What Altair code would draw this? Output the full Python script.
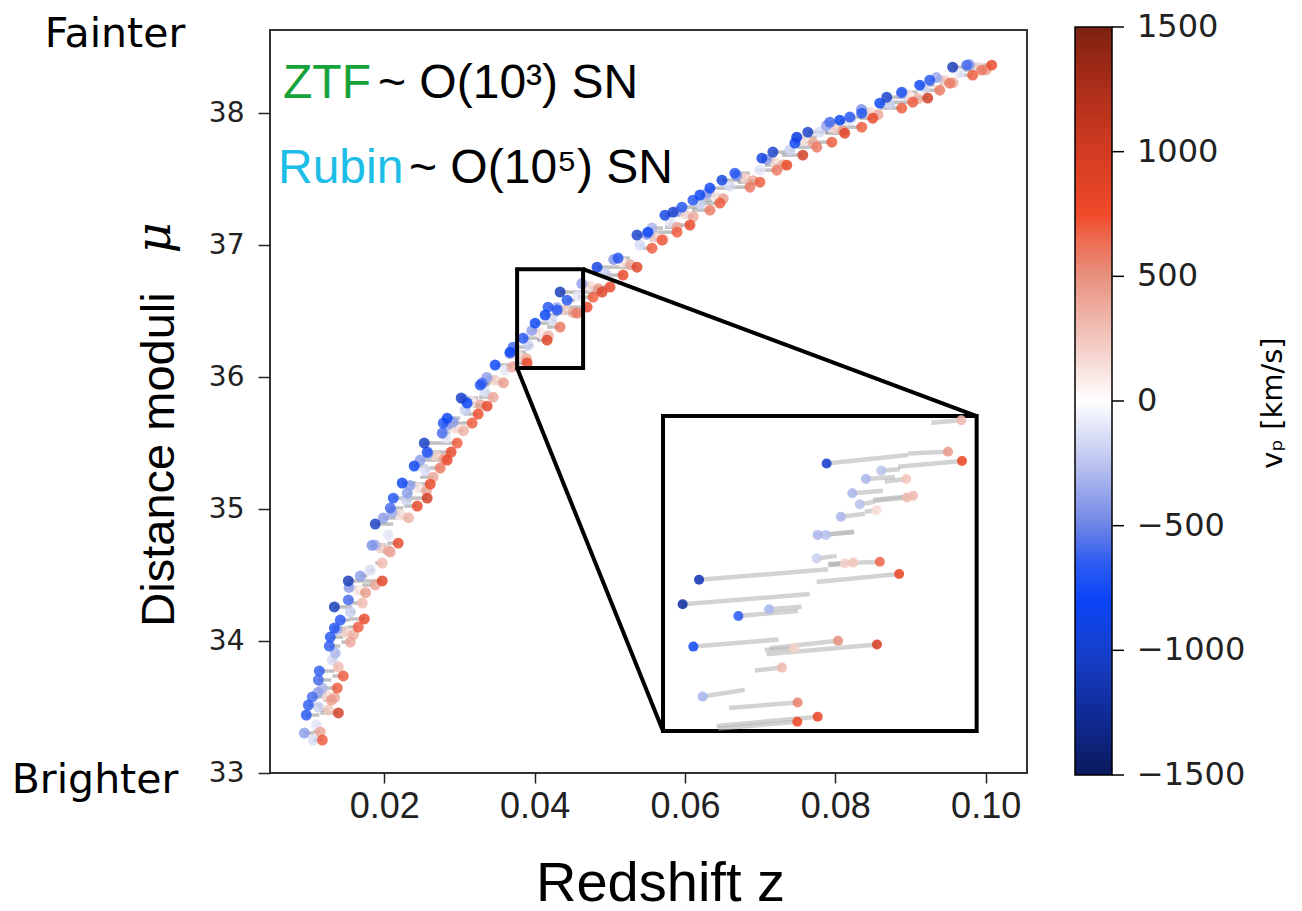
import altair as alt
import pandas as pd

# ---------------- axes / layout ----------------
W, H = 757, 743
Z_DOMAIN = [0.0048, 0.1055]
MU_DOMAIN = [33.0, 38.63]
x_ticks = [0.02, 0.04, 0.06, 0.08, 0.10]
y_ticks = [33, 34, 35, 36, 37, 38]

# ---------------- main scatter (observed z, distance modulus, peculiar velocity, cosmological z) ----------------
z_obs = [
    .01522, .01681, .01973, .01880, .01973, .01336, .01522, .01734, .01654, .01708, .01415,
    .01336, .01282, .01269, .01349, .01548, .01389, .01136, .01123, .01455, .01375, .01176,
    .01043, .00990, .01296, .01389, .00963, .01123, .00937, .01149, .01176, .01056, .01256,
    .03276, .03023, .03103, .03369, .03249, .03169, .02837, .02784, .02917, .02771, .02532,
    .02571, .02970, .02890, .02837, .02744, .02399, .02478, .02611, .02651, .02239, .02120,
    .02306, .02080, .02571, .02439, .01880, .01987, .01880, .02186, .02080,
    .05841, .05734, .05508, .05362, .05894, .05694, .05562, .05110, .04831, .05362, .05176,
    .05003, .04897, .04778, .04339, .04432, .04179, .04140, .04698, .04565, .04166, .04339,
    .04007, .03847, .03714, .03900, .03475, .03302, .03449, .03701, .04299, .03674,
    .08193, .07927, .08126, .07954, .07634, .07488, .07462, .07568, .07754, .07169, .07023,
    .07355, .07223, .06664, .06492, .06997, .06864, .06332, .06199, .06106, .05960, .06465,
    .06332, .06066, .05894, .05562,
    .09561, .09748, .10080, .09947, .09827, .09256, .09123, .09229, .09522, .09389, .08884,
    .08684, .08591, .09030, .08884, .08352, .08060, .08498, .08352,
    .01096, .01229, .01309, .01482, .01548, .01641, .01814, .01947, .02053, .02213, .02292,
    .02452, .02545, .02691, .02824, .02944, .03076, .03169, .03342, .03475, .03608, .03781,
    .03914, .04073, .04233, .04405, .04578, .04738, .04937, .05163, .05402, .05601, .05801,
    .06000, .06199, .06399, .06598, .06797, .06997, .07196, .07395, .07595, .07794, .07993,
    .08193, .08458, .08724, .08990, .09189, .09455, .09654, .09894,
]
mu_obs = [
    34.455, 34.492, 34.455, 34.424, 34.591, 34.258, 34.311, 34.167, 34.106, 34.288, 34.159,
    34.098, 34.030, 33.962, 33.909, 33.992, 33.803, 33.773, 33.705, 33.735, 33.644, 33.644,
    33.576, 33.515, 33.553, 33.455, 33.439, 33.500, 33.303, 33.311, 33.250, 33.250, 33.477,
    35.939, 35.841, 35.803, 35.780, 35.720, 35.652, 35.689, 35.652, 35.659, 35.576, 35.500,
    35.432, 35.500, 35.432, 35.371, 35.311, 35.326, 35.371, 35.189, 35.242, 35.197, 35.083,
    35.121, 35.008, 35.083, 35.023, 34.886, 34.932, 34.727, 34.742, 34.674,
    37.250, 37.227, 37.098, 37.076, 37.136, 37.038, 36.977, 36.902, 36.833, 36.833, 36.773,
    36.682, 36.644, 36.606, 36.644, 36.583, 36.530, 36.470, 36.530, 36.485, 36.280, 36.379,
    36.409, 36.295, 36.227, 36.106, 36.091, 35.955, 35.848, 36.076, 36.508, 36.189,
    37.970, 37.932, 37.848, 37.780, 37.856, 37.818, 37.773, 37.682, 37.742, 37.705, 37.659,
    37.606, 37.568, 37.545, 37.492, 37.477, 37.439, 37.432, 37.379, 37.341, 37.288, 37.318,
    37.265, 37.152, 37.098, 37.129,
    38.348, 38.364, 38.364, 38.326, 38.288, 38.250, 38.212, 38.114, 38.227, 38.174, 38.159,
    38.121, 38.076, 38.083, 38.038, 38.000, 37.947, 37.962, 37.894,
    33.364, 33.591, 33.856, 34.068, 34.220, 34.386, 34.538, 34.705, 34.803, 34.955, 35.068,
    35.159, 35.295, 35.402, 35.538, 35.614, 35.750, 35.811, 35.886, 35.977, 36.053, 36.159,
    36.242, 36.333, 36.432, 36.508, 36.614, 36.689, 36.788, 36.871, 37.000, 37.061, 37.174,
    37.235, 37.311, 37.371, 37.447, 37.508, 37.568, 37.629, 37.720, 37.795, 37.856, 37.886,
    37.947, 38.008, 38.068, 38.129, 38.189, 38.250, 38.303, 38.348,
]
v_pec = [
    -1100, -400, 900, 400, 300, -1100, -600, 800, 700, 300, -700,
    -700, -700, -650, -300, 400, 300, -650, -600, 700, 700, -300,
    -600, -650, 450, 1000, -700, -200, -400, 400, 700, -150, 250,
    -700, -1000, -800, 800, 750, 700, -800, -700, -400, -600, -1050,
    -700, 700, 800, 800, 600, -800, -400, 800, 400, -800, -700,
    -400, -600, 1000, 800, -1050, -400, -300, 800, 400,
    -1000, -900, -800, -1000, 400, 700, 700, -700, -900, 900, 800,
    800, 900, 700, -1100, -700, -700, -800, 800, 600, 900, 600,
    -800, -700, -600, 800, -800, -600, 400, 400, -700, -800,
    -700, -600, 900, 700, -1000, -900, -800, 1000, 600, -1000, -900,
    800, 600, -700, -900, 700, 600, -800, -800, -700, -700, 700,
    600, 800, 700, -300,
    -1100, -600, 800, 600, 700, -700, -800, 1000, 600, 600, -700,
    -1000, -800, 700, 700, -700, -800, 800, 700,
    -100, 150, -150, 200, -200, 100, -150, 200, -100, 150, -200,
    100, -150, 200, -100, 150, -200, 100, -150, 200, -100, 150,
    -200, 100, -150, 200, -100, 150, -200, 100, -150, 200, -100,
    150, -200, 100, -150, 200, -100, 150, -200, 100, -150, 200,
    -100, 150, -200, 100, -150, 200, -100, 150,
]
z_cos = [
    .01748, .01774, .01748, .01708, .01880, .01575, .01588, .01535, .01522, .01575, .01535,
    .01522, .01455, .01415, .01389, .01429, .01349, .01336, .01296, .01309, .01269, .01269,
    .01216, .01163, .01189, .01149, .01136, .01163, .01056, .01056, .01056, .01096, .01149,
    .03395, .03249, .03223, .03183, .03063, .02957, .03010, .02957, .02970, .02877, .02797,
    .02731, .02797, .02731, .02638, .02558, .02571, .02638, .02425, .02478, .02425, .02346,
    .02372, .02252, .02346, .02266, .02120, .02159, .02027, .02040, .01987,
    .06040, .05973, .05654, .05601, .05734, .05535, .05429, .05269, .05096, .05096, .04963,
    .04738, .04631, .04578, .04631, .04538, .04432, .04313, .04432, .04339, .04033, .04166,
    .04193, .04060, .03940, .03701, .03688, .03422, .03262, .03661, .04379, .03887,
    .08352, .08140, .07874, .07661, .07900, .07754, .07634, .07289, .07501, .07355, .07196,
    .07063, .06930, .06864, .06744, .06704, .06611, .06598, .06465, .06359, .06173, .06266,
    .06093, .05774, .05654, .05708,
    .09814, .09894, .09894, .09695, .09628, .09455, .09322, .08924, .09389, .09150, .09096,
    .08950, .08724, .08764, .08591, .08432, .08272, .08325, .08033,
    .01126, .01179, .01359, .01412, .01618, .01611, .01864, .01877, .02083, .02163, .02362,
    .02422, .02595, .02621, .02854, .02894, .03146, .03139, .03392, .03405, .03638, .03731,
    .03984, .04043, .04283, .04335, .04608, .04688, .05007, .05133, .05452, .05531, .05831,
    .05950, .06269, .06369, .06648, .06727, .07027, .07146, .07465, .07565, .07844, .07923,
    .08223, .08408, .08794, .08960, .09239, .09385, .09684, .09844,
]

# paler supernovae hugging both sides of the band
z_obs_pale = [
    .01119, .01339, .01372, .01592, .01531, .01751, .01837, .02057, .02103, .02323,
    .02342, .02562, .02581, .02801, .02834, .03054, .03059, .03279, .03365, .03585,
    .03671, .03891, .03963, .04183, .04295, .04515, .04628, .04848, .05053, .05273,
    .05491, .05711, .05890, .06110, .06289, .06509, .06687, .06907, .07086, .07306,
    .07485, .07705, .07883, .08103, .08348, .08568, .08880, .09100, .09345, .09565,
    .09784, .10004,
]
mu_obs_pale = [
    33.611, 33.571, 34.088, 34.048, 34.406, 34.366, 34.725, 34.685, 34.975, 34.935,
    35.179, 35.139, 35.422, 35.382, 35.634, 35.594, 35.831, 35.791, 35.997, 35.957,
    36.179, 36.139, 36.353, 36.313, 36.528, 36.488, 36.709, 36.669, 36.891, 36.851,
    37.081, 37.041, 37.255, 37.215, 37.391, 37.351, 37.528, 37.488, 37.649, 37.609,
    37.815, 37.775, 37.906, 37.866, 38.028, 37.988, 38.149, 38.109, 38.270, 38.230,
    38.368, 38.328,
]
v_pec_pale = [
    -400, 400, -350, 350, -400, 450, -450, 400, -350, 350,
    -400, 400, -450, 450, -400, 350, -350, 400, -400, 450,
    -450, 400, -400, 350, -350, 400, -400, 450, -450, 400,
    -400, 350, -350, 400, -400, 450, -450, 400, -400, 350,
    -350, 400, -400, 450, -450, 400, -400, 350, -350, 400,
    -400, 450,
]
z_cos_pale = [
    .01229, .01229, .01482, .01482, .01641, .01641, .01947, .01947, .02213, .02213,
    .02452, .02452, .02691, .02691, .02944, .02944, .03169, .03169, .03475, .03475,
    .03781, .03781, .04073, .04073, .04405, .04405, .04738, .04738, .05163, .05163,
    .05601, .05601, .06000, .06000, .06399, .06399, .06797, .06797, .07196, .07196,
    .07595, .07595, .07993, .07993, .08458, .08458, .08990, .08990, .09455, .09455,
    .09894, .09894,
]

# ---------------- zoom window and inset placement (main-axis data units) ----------------
ZOOM_Z = [0.03767, 0.04645]
ZOOM_MU = [36.068, 36.818]
INSET_Z = [0.05708, 0.09880]
INSET_MU = [33.318, 35.705]

# ---------------- inset content (zoomed data) ----------------
in_z = [.04225, .04565, .04604, .04378, .04335, .04448, .04297, .04467, .04450, .04318, .04365,
        .04265, .04200, .04223, .04197, .04276, .04299, .04374, .03868, .04428, .03822, .04064,
        .03978, .03852, .04257, .04366, .04134, .04100, .03878, .04144, .04200, .04143, .04602]
in_mu = [36.705, 36.733, 36.711, 36.688, 36.668, 36.668, 36.634, 36.628, 36.624, 36.608, 36.594,
         36.578, 36.535, 36.535, 36.479, 36.467, 36.469, 36.471, 36.428, 36.442, 36.370, 36.358,
         36.342, 36.269, 36.283, 36.274, 36.265, 36.219, 36.150, 36.136, 36.102, 36.090, 36.808]
in_v = [-1000, 450, 800, -250, -300, 250, -300, 300, 300, -250, 150,
        -300, -300, -250, -200, 200, 250, 650, -1100, 800, -1200, -300,
        -650, -750, 500, 950, 200, 300, -300, 550, 800, 750, 300]
in_z_end = [.04453, .04453, .04425, .04430, .04416, .04388, .04383, .04355, .04360, .04360, .04332,
            .04332, .04302, .04302, .04253, .04229, .04234, .04229, .04229, .04197, .04178, .04155,
            .04145, .04091, .04066, .04057, .04052, .04024, .03996, .03952, .03917, .03922, .04518]
in_mu_end = [36.725, 36.729, 36.697, 36.691, 36.673, 36.662, 36.640, 36.618, 36.616, 36.614, 36.590,
             36.585, 36.541, 36.543, 36.485, 36.463, 36.463, 36.466, 36.453, 36.423, 36.394, 36.364,
             36.354, 36.286, 36.265, 36.251, 36.261, 36.212, 36.166, 36.123, 36.080, 36.074, 36.802]

# ---------------- colour bar ----------------
CB_RANGE = [-1500, 1500]
cb_stops = [-1500, -1250, -1000, -800, -650, -500, -250, 0, 250, 500, 650, 750, 1000, 1250, 1500]
cb_colors = ['#0b1a5c', '#0f2b98', '#1640cc', '#0a44f7', '#2e5cf2', '#6d84e6', '#bcc4ef', '#ffffff',
             '#f2c6bd', '#e8917f', '#ee6a50', '#f04a2a', '#d23c22', '#ad2e1a', '#7c2210']
cb_ticks = [1500, 1000, 500, 0, -500, -1000, -1500]

# ---------------- data frames ----------------
main_df = pd.DataFrame({'z': z_obs + z_obs_pale, 'mu': mu_obs + mu_obs_pale,
                        'v': v_pec + v_pec_pale, 'zc': z_cos + z_cos_pale})
main_df = main_df.assign(av=main_df['v'].abs()).sort_values('av', kind='stable')
inset_df = pd.DataFrame({'z': in_z, 'mu': in_mu, 'v': in_v, 'z2': in_z_end, 'mu2': in_mu_end})
inset_df = inset_df.assign(av=inset_df['v'].abs()).sort_values('av', kind='stable')
zoom_df = pd.DataFrame({'z': [ZOOM_Z[0]], 'z2': [ZOOM_Z[1]], 'mu': [ZOOM_MU[0]], 'mu2': [ZOOM_MU[1]]})
inset_box_df = pd.DataFrame({'z': [INSET_Z[0]], 'z2': [INSET_Z[1]], 'mu': [INSET_MU[0]], 'mu2': [INSET_MU[1]]})
conn_df = pd.DataFrame({'z': [ZOOM_Z[0], ZOOM_Z[1]], 'mu': [ZOOM_MU[0], ZOOM_MU[1]],
                        'z2': [INSET_Z[0], INSET_Z[1]], 'mu2': [INSET_MU[0], INSET_MU[1]]})
tick_df = pd.DataFrame({'t': cb_ticks})
bar_df = pd.DataFrame({'lo': [CB_RANGE[0]], 'hi': [CB_RANGE[1]]})
one = pd.DataFrame({'k': [0]})

# ---------------- scales / axes ----------------
x_axis = alt.Axis(values=x_ticks, format='.2f', title='Redshift z', grid=False, domain=False,
                  tickSize=10, tickWidth=1.5, tickColor='#222', labelFont='Liberation Sans',
                  labelFontSize=36, labelColor='#222', labelPadding=6,
                  titleFont='Liberation Sans', titleFontSize=56, titleFontWeight='normal',
                  titleColor='black', titleX=390, titleY=127, titleAlign='center',
                  titleBaseline='alphabetic')
y_axis = alt.Axis(values=y_ticks, format='d', title='Distance moduli', grid=False, domain=False,
                  tickSize=12, tickWidth=1.5, tickColor='#222', labelFont='DejaVu Sans',
                  labelFontSize=28, labelColor='#222', labelPadding=14,
                  titleFont='Liberation Sans', titleFontSize=47, titleFontWeight='normal',
                  titleColor='black', titleAngle=270, titleX=-97, titleY=429,
                  titleAlign='center', titleBaseline='alphabetic')
xs = alt.Scale(domain=Z_DOMAIN, nice=False, zero=False)
ys = alt.Scale(domain=MU_DOMAIN, nice=False, zero=False)
X = alt.X('z:Q', scale=xs, axis=x_axis)
Y = alt.Y('mu:Q', scale=ys, axis=y_axis)

color_scale = alt.Scale(domain=cb_stops, range=cb_colors, interpolate='rgb', clamp=True)
C = alt.Color('v:Q', scale=color_scale, legend=None)

# ---------------- main layers ----------------
main_lines = alt.Chart(main_df).mark_rule(color='#333333', opacity=0.3, strokeWidth=3.5).encode(
    x=X, x2='zc:Q', y=Y)
main_pts = alt.Chart(main_df).mark_circle(size=120, fillOpacity=0.82, strokeWidth=0).encode(
    x=X, y=Y, color=C)
zoom_box = alt.Chart(zoom_df).mark_rect(fillOpacity=0, stroke='black', strokeWidth=4).encode(
    x=X, x2='z2:Q', y=Y, y2='mu2:Q')
connectors = alt.Chart(conn_df).mark_rule(color='black', strokeWidth=4).encode(
    x=X, y=Y, x2='z2:Q', y2='mu2:Q')
inset_box = alt.Chart(inset_box_df).mark_rect(fill='white', stroke='black', strokeWidth=4).encode(
    x=X, x2='z2:Q', y=Y, y2='mu2:Q')
main_group = alt.layer(main_lines, main_pts, zoom_box, connectors, inset_box)

# ---------------- inset layers (own scales mapped onto inset box) ----------------
def px_x(v):
    return (v - Z_DOMAIN[0]) / (Z_DOMAIN[1] - Z_DOMAIN[0]) * W

def px_y(v):
    return (MU_DOMAIN[1] - v) / (MU_DOMAIN[1] - MU_DOMAIN[0]) * H

ixs = alt.Scale(domain=ZOOM_Z, range=[px_x(INSET_Z[0]), px_x(INSET_Z[1])], nice=False, zero=False)
iys = alt.Scale(domain=ZOOM_MU, range=[px_y(INSET_MU[0]), px_y(INSET_MU[1])], nice=False, zero=False)
IX = alt.X('z:Q', scale=ixs, axis=None)
IY = alt.Y('mu:Q', scale=iys, axis=None)
inset_lines = alt.Chart(inset_df).mark_rule(color='#b5b5b5', opacity=0.6, strokeWidth=4.5).encode(
    x=IX, y=IY, x2='z2:Q', y2='mu2:Q')
inset_pts = alt.Chart(inset_df).mark_circle(size=100, fillOpacity=0.88, strokeWidth=0).encode(
    x=IX, y=IY, color=C)
inset_group = alt.layer(inset_lines, inset_pts)

# ---------------- colour bar: gradient strip, ticks and labels ----------------
CBY = alt.Y('t:Q', scale=alt.Scale(domain=CB_RANGE, range=[745, -3]), axis=None)
grad = alt.Gradient(
    gradient='linear', x1=0, x2=0, y1=1, y2=0,
    stops=[alt.GradientStop(color=c, offset=(s - CB_RANGE[0]) / (CB_RANGE[1] - CB_RANGE[0]))
           for s, c in zip(cb_stops, cb_colors)])
cb_bar = alt.Chart(bar_df).mark_rect(fill=grad, stroke='black', strokeWidth=1.5).encode(
    y=alt.Y('lo:Q', scale=alt.Scale(domain=CB_RANGE, range=[745, -3]), axis=None),
    y2='hi:Q', x=alt.value(805), x2=alt.value(842))
cb_tick_marks = alt.Chart(tick_df).mark_rule(color='black', strokeWidth=1.5).encode(
    y=CBY, x=alt.value(842), x2=alt.value(854))
cb_tick_labels = alt.Chart(tick_df).mark_text(
    align='left', baseline='middle', font='DejaVu Sans', fontSize=32, color='#222').encode(
    y=CBY, x=alt.value(867), text=alt.Text('t:Q', format='d'))
cb_group = alt.layer(cb_bar, cb_tick_marks, cb_tick_labels)

# ---------------- text annotations ----------------
def txt(text, x, y, size, font='Liberation Sans', color='black', align='left', angle=0,
        style='normal', baseline='alphabetic'):
    return alt.Chart(one).mark_text(text=text, font=font, fontSize=size, color=color, align=align,
                                    baseline=baseline, angle=angle, fontStyle=style).encode(
        x=alt.value(x), y=alt.value(y))

annotations = [
    txt('ZTF', 13, 68, 48, color='#16a33a'),
    txt('~ O(10³) SN', 108, 68, 48),
    txt('Rubin', 8, 153, 48, color='#1cbde6'),
    txt('~ O(10⁵) SN', 139, 153, 48),
    txt('Fainter', -155, 17, 41, font='DejaVu Sans', align='center'),
    txt('Brighter', -175, 763, 41, font='DejaVu Sans', align='center'),
    txt('μ', -100, 208, 48, font='DejaVu Serif', align='center', angle=270, style='italic'),
    txt('vₚ [km/s]', 1012, 373, 29, font='DejaVu Sans', align='center', angle=270),
]

chart = alt.layer(main_group, inset_group, cb_group, *annotations).resolve_scale(
    x='independent', y='independent'
).properties(
    width=W, height=H,
    autosize=alt.AutoSizeParams(type='none'),
    padding={'left': 270, 'top': 30, 'right': 275, 'bottom': 138},
    background='white',
).configure_view(stroke='#333333', strokeWidth=2)

chart.save('out.html', embed_options={'renderer': 'svg', 'actions': False})
